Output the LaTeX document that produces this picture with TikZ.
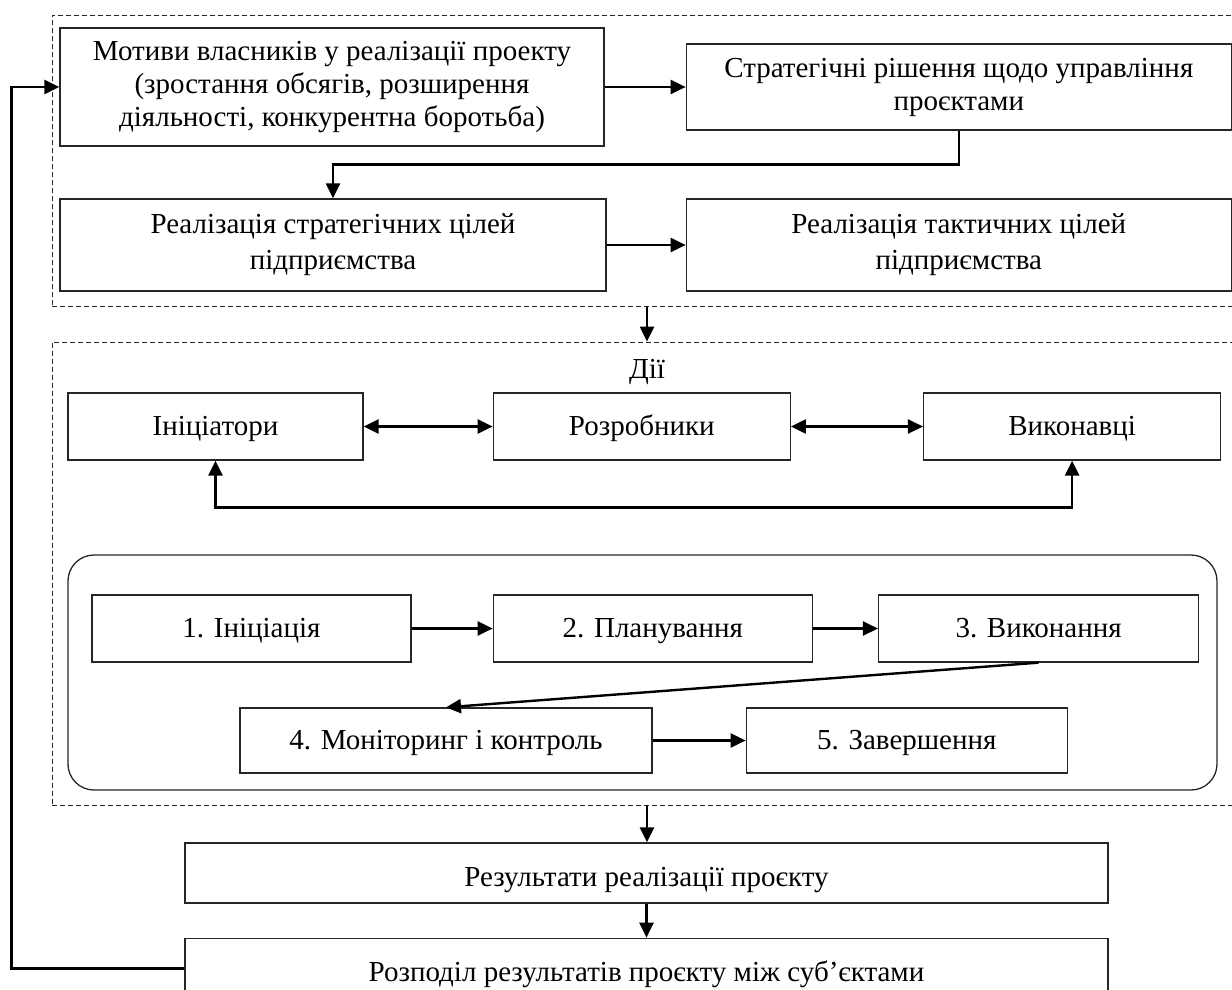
\documentclass[tikz,border=0pt]{standalone}
\usepackage{fontspec}
\setmainfont{Liberation Serif}
\usepackage{tikz}
\usetikzlibrary{arrows.meta,positioning,calc}
\newcommand{\boxfont}{\fontsize{29}{33}\selectfont}
\tikzset{
  box/.style    = {rectangle, draw=black!85, line width=1.3pt, fill=white,
                   align=center, inner sep=0pt, font=\boxfont},
  sbox/.style   = {box, text height=22pt, text depth=5pt},
  wbox/.style   = {box, text height=30pt, text depth=4pt},
  frame/.style  = {rectangle, draw=black!85, line width=0.9pt,
                   dash pattern=on 5pt off 3pt},
  phasebox/.style = {rectangle, rounded corners=26pt, draw=black!85,
                   line width=1.3pt},
  arr/.style    = {-{Triangle[length=15pt,width=14pt]}, line width=2.4pt},
  darr/.style   = {{Triangle[length=15pt,width=14pt]}-{Triangle[length=15pt,width=14pt]},
                   line width=2.4pt},
}
\begin{document}
\begin{tikzpicture}[x=1pt, y=-1pt]
\useasboundingbox (0,0) rectangle (1232,990);

%% ── Frames ────────────────────────────────────────────────
\node[frame, minimum width=1184pt, minimum height=291pt] (goals)   at (644,160.5) {};
\node[frame, minimum width=1184pt, minimum height=463pt] (actions) at (644,573.5) {};
\node[phasebox, minimum width=1149pt, minimum height=235pt] (phases) at (642.5,672.5) {};

%% ── Row 0: Goals ──────────────────────────────────────────
\node[box, minimum width=544pt, minimum height=118pt] (motiv) at (332,87)
  {Мотиви власників у реалізації проекту\\(зростання обсягів, розширення\\діяльності, конкурентна боротьба)};
\node[box, minimum width=545pt, minimum height=86pt, right=81pt of motiv] (strat)
  {Стратегічні рішення щодо управління\\проєктами};

%% ── Row 1: Realisation ────────────────────────────────────
\node[box, minimum width=546pt, minimum height=92pt] (realS) at (333,245)
  {Реалізація стратегічних цілей\\[3pt]підприємства};
\node[box, minimum width=545pt, minimum height=92pt, right=79pt of realS] (realT)
  {Реалізація тактичних цілей\\[3pt]підприємства};

%% ── Row 2: Actors ─────────────────────────────────────────
\node[font=\boxfont] (dii) at (647,372) {Дії};
\node[sbox, minimum width=295pt, minimum height=67pt] (init) at (215.5,426.5) {Ініціатори};
\node[sbox, minimum width=297pt, minimum height=67pt, right=129pt of init] (razr) {Розробники};
\node[sbox, minimum width=297pt, minimum height=67pt, right=132pt of razr] (vyk)  {Виконавці};

%% ── Row 3: Phases ─────────────────────────────────────────
\node[sbox, minimum width=319pt, minimum height=67pt] (p1) at (251.5,628.5) {1. Ініціація};
\node[sbox, minimum width=319pt, minimum height=67pt, right=81pt of p1] (p2) {2. Планування};
\node[sbox, minimum width=320pt, minimum height=67pt, right=65pt of p2] (p3) {3. Виконання};
\node[sbox, minimum width=412pt, minimum height=65pt] (p4) at (446,740.5) {4. Моніторинг і контроль};
\node[sbox, minimum width=321pt, minimum height=65pt, right=93pt of p4] (p5) {5. Завершення};

%% ── Row 4: Results ────────────────────────────────────────
\node[wbox, minimum width=923pt, minimum height=60pt] (res) at (646.5,873) {Результати реалізації проєкту};
\node[wbox, minimum width=923pt, minimum height=60pt, below=34pt of res] (rozp)
  {Розподіл результатів проєкту між суб’єктами};

%% ── Arrows: goals ─────────────────────────────────────────
\draw[arr] (motiv) -- (strat);
\draw[arr] (strat.south) -- ++(0,34) -| (realS.north);
\draw[arr] (realS) -- (realT);
\draw[arr] (dii |- goals.south) -- (dii |- actions.north);

%% ── Arrows: actors ────────────────────────────────────────
\draw[darr] (init) -- (razr);
\draw[darr] (razr) -- (vyk);
\draw[darr] (init.south) -- ++(0,47) -| (vyk.south);

%% ── Arrows: phases ────────────────────────────────────────
\draw[arr] (p1) -- (p2);
\draw[arr] (p2) -- (p3);
\draw[arr] (p3.south) -- (p4.north);
\draw[arr] (p4) -- (p5);

%% ── Arrows: results + feedback ────────────────────────────
\draw[arr] (dii |- actions.south) -- (dii |- res.north);
\draw[arr] (res) -- (rozp);
\draw[arr] (rozp.west) -- ++(-173,0) |- (motiv.west);

\end{tikzpicture}
\end{document}
